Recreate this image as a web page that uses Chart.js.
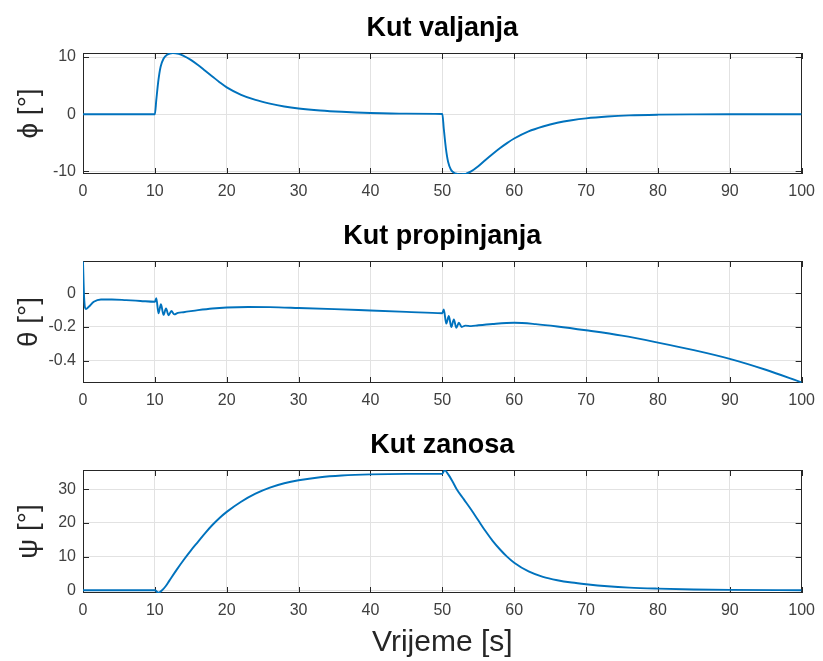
<!DOCTYPE html>
<html lang="hr">
<head>
  <meta charset="UTF-8" />
  <title>Kutovi</title>
  <style>
    body {
      margin: 0;
      background: #fff;
    }

    .plot {
      position: absolute;
      left: 0;
    }
  </style>
</head>
<body>
  <div class="plot" style="top: 0px"><canvas id="c1" width="823" height="205"></canvas></div>
  <div class="plot" style="top: 205px"><canvas id="c2" width="823" height="210"></canvas></div>
  <div class="plot" style="top: 415px"><canvas id="c3" width="823" height="246"></canvas></div>

  <script src="https://cdn.jsdelivr.net/npm/chart.js@4/dist/chart.umd.min.js"></script>
  <script>
    // kut valjanja (phi)
    const phiT = [0, 10, 10.2, 10.5, 10.8, 11.2, 11.7, 12.5, 13.3, 14, 15, 16, 17, 18, 19, 20, 22, 24, 26, 28,
      30, 33, 36, 40, 45, 50, 50.2, 50.5, 50.8, 51.2, 51.7, 52.5, 53.3, 54, 55, 56, 57, 58, 59, 60,
      62, 64, 66, 68, 70, 73, 76, 80, 85, 90, 100];
    const phiV = [0, 0, 2.5, 6, 8.3, 9.7, 10.4, 10.7, 10.55, 10.2, 9.5, 8.6, 7.6, 6.6, 5.6, 4.7, 3.4, 2.5, 1.85, 1.35,
      1.0, 0.65, 0.42, 0.22, 0.1, 0.05, -2.5, -6, -8.3, -9.7, -10.3, -10.5, -10.4, -10.0, -9.1, -8.0, -6.95, -5.95, -5.05, -4.25,
      -3.0, -2.15, -1.5, -1.05, -0.72, -0.4, -0.2, -0.08, -0.02, 0, 0];

    // kut propinjanja (theta)
    const thetaT = [0, 0.15, 0.4, 0.8, 1.5, 2.5, 4, 6, 8, 10, 10.2, 10.5, 10.85, 11.2, 11.55, 11.9, 12.3, 12.7, 13.2,
      14, 16, 18, 20, 23, 26, 30, 35, 40, 45, 50, 50.2, 50.55, 50.9, 51.25, 51.6, 51.95, 52.3, 52.7,
      53.2, 54, 55, 57, 60, 63, 66, 70, 75, 80, 85, 90, 95, 100];
    const thetaV = [0.19, -0.02, -0.093, -0.08, -0.05, -0.036, -0.036, -0.04, -0.045, -0.05, -0.028, -0.118, -0.065, -0.128, -0.09, -0.13, -0.105, -0.125, -0.116,
      -0.112, -0.1, -0.09, -0.084, -0.081, -0.082, -0.087, -0.094, -0.102, -0.11, -0.118, -0.096, -0.18, -0.135, -0.2, -0.155, -0.205, -0.175, -0.2,
      -0.192, -0.195, -0.19, -0.182, -0.175, -0.183, -0.197, -0.22, -0.252, -0.293, -0.338, -0.39, -0.455, -0.53];

    // kut zanosa (psi)
    const psiT = [0, 10, 10.5, 11, 11.5, 12, 13, 14, 15, 16, 17, 18, 19, 20, 22, 24, 26, 28, 30, 33,
      36, 40, 45, 50, 50.3, 50.8, 51.5, 52, 53, 54, 55, 56, 57, 58, 59, 60, 62, 64, 66, 68,
      70, 73, 76, 80, 85, 90, 100];
    const psiV = [0, 0, -0.7, 0, 1.2, 2.8, 6, 9, 11.8, 14.4, 17.0, 19.4, 21.5, 23.3, 26.3, 28.7, 30.5, 31.8, 32.7, 33.6,
      34.1, 34.45, 34.6, 34.6, 35.7, 34.5, 32, 30, 27, 24, 20.8, 17.6, 14.7, 12.2, 10.0, 8.2, 5.6, 4.0, 3.0, 2.3,
      1.8, 1.2, 0.8, 0.5, 0.25, 0.12, 0.03];

    const xTicks = [0, 10, 20, 30, 40, 50, 60, 70, 80, 90, 100];
    const phiTicks = [-10, 0, 10];
    const thetaTicks = [-0.4, -0.2, 0];
    const psiTicks = [0, 10, 20, 30];

    const titles = ['Kut valjanja', 'Kut propinjanja', 'Kut zanosa'];
    const yLabels = ['ϕ [°]', 'θ [°]', 'ψ [°]'];
    const xLabel = 'Vrijeme [s]';

    const FONT = "'Liberation Sans', Arial, sans-serif";
    const LINE = '#0072BD';
    const GRID = '#e2e2e2';
    const AXIS = '#262626';

    // okvir i unutarnje crtice kao u matlabu
    const boxPlugin = {
      id: 'box',
      beforeDatasetsDraw(chart) {
        const { ctx, chartArea: a, scales: { x, y } } = chart;
        ctx.save();
        ctx.strokeStyle = AXIS;
        ctx.lineWidth = 1;
        ctx.strokeRect(Math.round(a.left) + 0.5, Math.round(a.top) + 0.5,
          Math.round(a.width) - 1, Math.round(a.height) - 1);
        ctx.beginPath();
        x.ticks.forEach(t => {
          const px = Math.round(x.getPixelForValue(t.value)) + 0.5;
          ctx.moveTo(px, a.bottom); ctx.lineTo(px, a.bottom - 6);
          ctx.moveTo(px, a.top); ctx.lineTo(px, a.top + 6);
        });
        y.ticks.forEach(t => {
          const py = Math.round(y.getPixelForValue(t.value)) + 0.5;
          ctx.moveTo(a.left, py); ctx.lineTo(a.left + 6, py);
          ctx.moveTo(a.right, py); ctx.lineTo(a.right - 6, py);
        });
        ctx.stroke();
        ctx.restore();
      }
    };

    function makePlot(id, i, tArr, vArr, yTicks, yMin, yMax, titleTop, xHeight, showX) {
      const pts = tArr.map((t, k) => ({ x: t, y: vArr[k] }));
      return new Chart(document.getElementById(id), {
        type: 'line',
        data: {
          datasets: [{
            data: pts,
            borderColor: LINE,
            borderWidth: 1.9,
            pointRadius: 0,
            cubicInterpolationMode: 'monotone',
            fill: false
          }]
        },
        options: {
          responsive: false,
          animation: false,
          events: [],
          layout: { padding: { left: 12, right: 20, top: 0, bottom: 0 } },
          plugins: {
            legend: { display: false },
            tooltip: { enabled: false },
            title: {
              display: true,
              text: titles[i],
              color: '#000',
              fullSize: false,
              font: { family: FONT, size: 27, weight: 'bold', lineHeight: 1.2 },
              padding: { top: titleTop + 2, bottom: 7.8 }
            }
          },
          scales: {
            x: {
              type: 'linear',
              min: 0,
              max: 100,
              afterBuildTicks: s => { s.ticks = xTicks.map(v => ({ value: v })); },
              afterFit: s => { s.height = xHeight; },
              grid: { color: GRID, drawTicks: false },
              border: { display: false },
              ticks: { color: '#404040', padding: 8, font: { family: FONT, size: 16 } },
              title: {
                display: showX,
                text: xLabel,
                color: AXIS,
                padding: 0,
                font: { family: FONT, size: 30, lineHeight: 1.2 }
              }
            },
            y: {
              type: 'linear',
              min: yMin,
              max: yMax,
              afterBuildTicks: s => { s.ticks = yTicks.map(v => ({ value: v })); },
              afterFit: s => { s.width = 71; },
              grid: { color: GRID, drawTicks: false },
              border: { display: false },
              ticks: { color: '#404040', padding: 7, font: { family: FONT, size: 16 } },
              title: {
                display: true,
                text: yLabels[i],
                color: AXIS,
                padding: 0,
                font: { family: FONT, size: 28, lineHeight: 1.2 }
              }
            }
          }
        },
        plugins: [boxPlugin]
      });
    }

    makePlot('c1', 0, phiT, phiV, phiTicks, -10.45, 10.7, 10.8, 31, false);
    makePlot('c2', 1, thetaT, thetaV, thetaTicks, -0.534, 0.193, 13.8, 32, false);
    makePlot('c3', 2, psiT, psiV, psiTicks, -0.8, 35.74, 12.8, 68, true);
  </script>
</body>
</html>
